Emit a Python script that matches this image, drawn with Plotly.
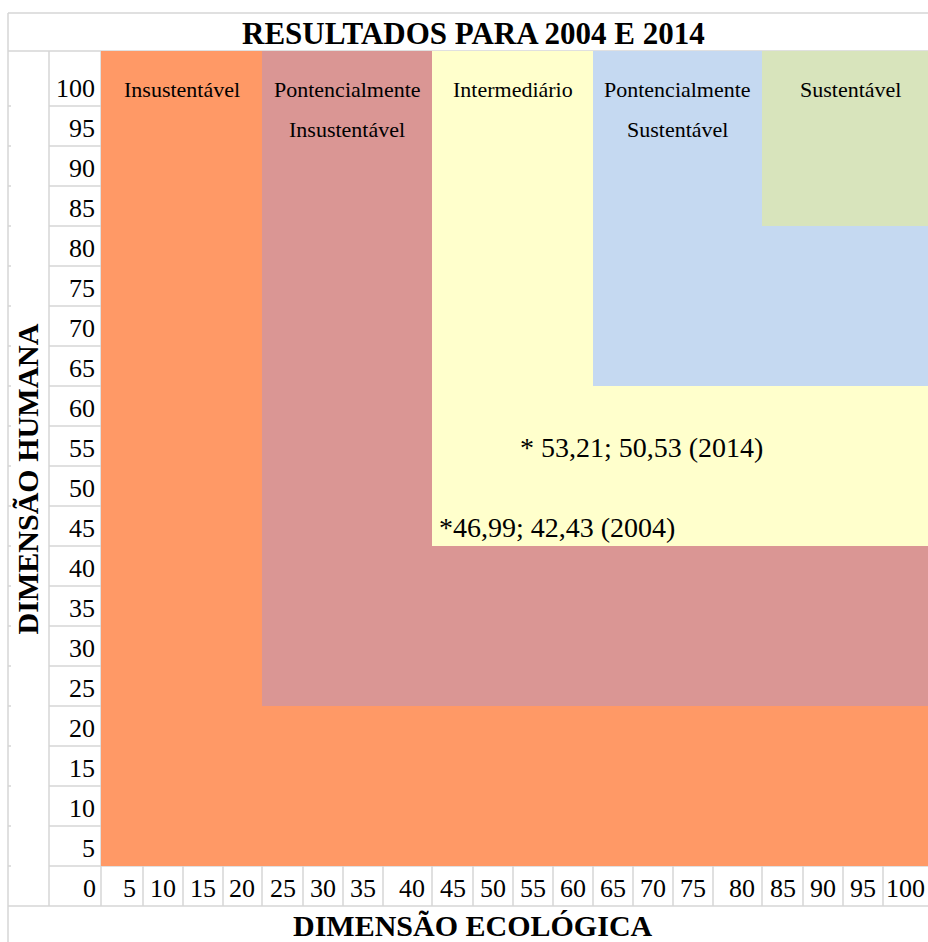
import plotly.graph_objects as go

# ---------------- data ----------------
eco_ticks = ["5", "10", "15", "20", "25", "30", "35", "40", "45", "50",
             "55", "60", "65", "70", "75", "80", "85", "90", "95", "100"]
hum_ticks = ["100", "95", "90", "85", "80", "75", "70", "65", "60", "55",
             "50", "45", "40", "35", "30", "25", "20", "15", "10", "5"]
origin_label = "0"

zone_names = ["Insustentável", "Pontencialmente Insustentável", "Intermediário",
              "Pontencialmente Sustentável", "Sustentável"]
zone_upper = [20, 40, 60, 80, 100]
zone_colors = ["#FF9966", "#DA9694", "#FFFFCC", "#C5D9F1", "#D8E4BC"]

result_labels = ["* 53,21; 50,53 (2014)", "*46,99; 42,43 (2004)"]
result_cells = [("55", "55"), ("45", "45")]   # (eco column, human row) where the text sits

chart_title = "RESULTADOS PARA 2004 E 2014"
x_title = "DIMENSÃO ECOLÓGICA"
y_title = "DIMENSÃO HUMANA"

# ---------------- sheet geometry (styles) ----------------
W, H = 928, 942
SHEET_LEFT, SHEET_TOP = 8, 13
COL_A_W, COL_B_W = 41, 52
DATA_COL_W = [42, 40, 40, 39, 41, 40, 40, 49, 41, 40, 40, 40, 40, 40, 40, 49, 41, 40, 40, 55]
TITLE_ROW_H, FIRST_ROW_H, ROW_H = 38, 55, 40
FONT = "Liberation Serif, Times New Roman, serif"
GRID = "#D6D6D6"
BASE_PAD = 9          # text baseline above cell bottom
ASC_DESC = 0.3375     # (ascent - descent)/2 of the serif font, in em

a_right = SHEET_LEFT + COL_A_W
b_right = a_right + COL_B_W
x_edges = [b_right]
for w in DATA_COL_W:
    x_edges.append(x_edges[-1] + w)
sheet_right = x_edges[-1]

title_bottom = SHEET_TOP + TITLE_ROW_H
y_edges = [title_bottom, title_bottom + FIRST_ROW_H]
for _ in hum_ticks[1:]:
    y_edges.append(y_edges[-1] + ROW_H)
xtick_row_bottom = y_edges[-1] + ROW_H
sheet_bottom = xtick_row_bottom + ROW_H


def zone_of(v):
    return next(k for k, u in enumerate(zone_upper) if v <= u)


z = [[min(zone_of(int(xl)), zone_of(int(yl))) for xl in eco_ticks] for yl in hum_ticks]

colorscale = []
n = len(zone_colors)
for k, c in enumerate(zone_colors):
    colorscale += [[k / n, c], [(k + 1) / n, c]]

fig = go.Figure(go.Heatmap(
    z=z, x=x_edges, y=y_edges, zmin=-0.5, zmax=n - 0.5,
    colorscale=colorscale, showscale=False, hoverinfo="skip", xgap=0, ygap=0,
))


def text_center(row_bottom, size):
    return row_bottom - BASE_PAD - ASC_DESC * size


ann = []
ann.append(dict(text=f"<b>{chart_title}</b>", x=(SHEET_LEFT + sheet_right) / 2,
                y=text_center(title_bottom + 2, 31), xanchor="center", yanchor="middle",
                font=dict(family=FONT, size=31, color="black")))
ann.append(dict(text=f"<b>{x_title}</b>", x=(SHEET_LEFT + sheet_right) / 2,
                y=935.5 - ASC_DESC * 30, xanchor="center", yanchor="middle",
                font=dict(family=FONT, size=30, color="black")))
ann.append(dict(text=f"<b>{y_title}</b>", x=38 - ASC_DESC * 30,
                y=(y_edges[0] + xtick_row_bottom) / 2, textangle=-90,
                xanchor="center", yanchor="middle",
                font=dict(family=FONT, size=30, color="black")))

TICK = 26
for i, lab in enumerate(hum_ticks):
    ann.append(dict(text=lab, x=b_right - 4, y=text_center(y_edges[i + 1], TICK),
                    xanchor="right", yanchor="middle",
                    font=dict(family=FONT, size=TICK, color="black")))
ann.append(dict(text=origin_label, x=b_right - 3, y=text_center(xtick_row_bottom, TICK),
                xanchor="right", yanchor="middle",
                font=dict(family=FONT, size=TICK, color="black")))
for j, lab in enumerate(eco_ticks):
    xr = min(x_edges[j + 1] - 5, W - 1)   # keep the last label inside the page
    ann.append(dict(text=lab, x=xr, y=text_center(xtick_row_bottom, TICK),
                    xanchor="right", yanchor="middle",
                    font=dict(family=FONT, size=TICK, color="black")))

ZF = 22
for k, name in enumerate(zone_names):
    cols = [j for j, xl in enumerate(eco_ticks) if zone_of(int(xl)) == k]
    xc = (x_edges[cols[0]] + x_edges[cols[-1] + 1]) / 2
    for li, word in enumerate(name.split(" ")):
        ann.append(dict(text=word, x=xc, y=text_center(y_edges[li + 1], ZF),
                        xanchor="center", yanchor="middle",
                        font=dict(family=FONT, size=ZF, color="black")))

RF = 28
for lab, (cx, cy) in zip(result_labels, result_cells):
    j = eco_ticks.index(cx)
    i = hum_ticks.index(cy)
    ann.append(dict(text=lab, x=x_edges[j] + 5, y=text_center(y_edges[i + 1], RF),
                    xanchor="left", yanchor="middle",
                    font=dict(family=FONT, size=RF, color="black")))

for a in ann:
    a.update(showarrow=False, xref="x", yref="y")

shapes = []


def line(x0, y0, x1, y1):
    shapes.append(dict(type="line", x0=x0, y0=y0, x1=x1, y1=y1, xref="x", yref="y",
                       layer="below", line=dict(color=GRID, width=1.5)))


line(SHEET_LEFT, SHEET_TOP, SHEET_LEFT, sheet_bottom)
line(SHEET_LEFT, SHEET_TOP, sheet_right, SHEET_TOP)
line(SHEET_LEFT, title_bottom, sheet_right, title_bottom)
line(a_right, title_bottom, a_right, xtick_row_bottom)
line(b_right, title_bottom, b_right, xtick_row_bottom)
for yb in y_edges[1:]:
    line(a_right, yb, sheet_right, yb)
    line(SHEET_LEFT, yb, SHEET_LEFT + 3, yb)
line(SHEET_LEFT, xtick_row_bottom, sheet_right, xtick_row_bottom)
for xb in x_edges[1:]:
    line(xb, title_bottom, xb, xtick_row_bottom)

fig.update_layout(
    width=W, height=H, margin=dict(l=0, r=0, t=0, b=0),
    paper_bgcolor="white", plot_bgcolor="white",
    xaxis=dict(range=[0, W], visible=False, fixedrange=True),
    yaxis=dict(range=[H, 0], visible=False, fixedrange=True),
    annotations=ann, shapes=shapes, showlegend=False,
)

fig.write_html(
    "out.html",
    config={"displayModeBar": False},
    post_script="document.body.style.margin='0';document.body.style.overflow='hidden';",
)
